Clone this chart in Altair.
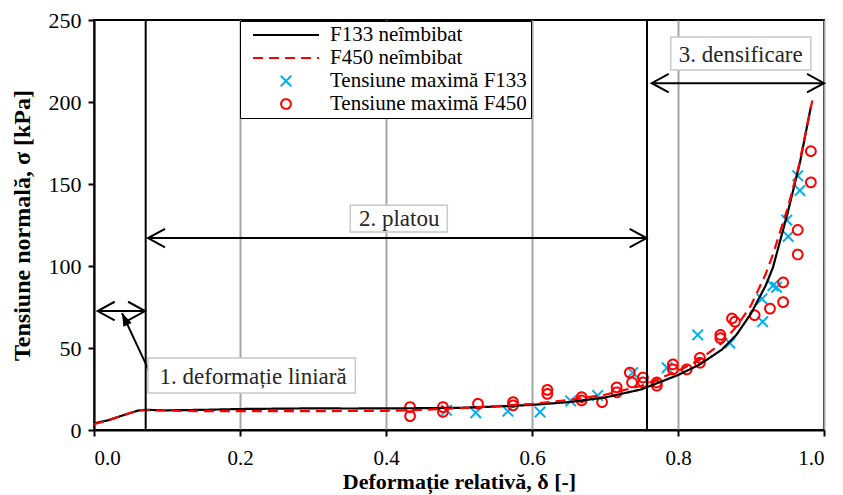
import altair as alt
import pandas as pd

FONT = "Liberation Serif"

# ---- curves ----
f133_delta = [0.0, 0.02, 0.04, 0.06, 0.07, 0.10, 0.15, 0.20, 0.25, 0.30, 0.35, 0.40, 0.45, 0.50,
              0.55, 0.60, 0.65, 0.70, 0.75, 0.80, 0.83, 0.86, 0.88, 0.90, 0.92, 0.93, 0.95, 0.967, 0.982]
f133_sigma = [4.0, 6.0, 9.0, 11.8, 12.3, 12.0, 12.3, 12.8, 13.0, 13.2, 13.1, 13.2, 13.3, 13.5,
              14.3, 15.3, 17.0, 19.8, 24.8, 33.5, 40.0, 49.0, 58.0, 71.0, 88.0, 99.0, 132.0, 163.0, 197.0]

f450_delta = [0.0, 0.02, 0.04, 0.06, 0.07, 0.10, 0.15, 0.20, 0.30, 0.40, 0.45, 0.50,
              0.55, 0.60, 0.65, 0.70, 0.75, 0.80, 0.83, 0.86, 0.88, 0.90, 0.92, 0.93, 0.95, 0.965, 0.984]
f450_sigma = [3.5, 6.0, 9.0, 11.8, 12.2, 11.8, 11.5, 11.5, 11.5, 11.7, 12.3, 13.3,
              14.5, 16.0, 18.2, 21.5, 27.0, 36.0, 43.0, 53.0, 63.0, 76.0, 95.0, 107.0, 135.0, 160.0, 201.0]

# ---- maximum stress points ----
max133_delta = [0.483, 0.523, 0.567, 0.611, 0.653, 0.690, 0.738, 0.785, 0.827, 0.871, 0.915, 0.916,
                0.930, 0.935, 0.949, 0.951, 0.964, 0.967]
max133_sigma = [12.0, 10.5, 11.5, 11.0, 17.7, 21.0, 35.0, 38.0, 58.0, 53.0, 80.0, 66.0,
                88.0, 87.0, 128.0, 118.0, 155.0, 146.0]

max450_delta = [0.433, 0.433, 0.478, 0.478, 0.526, 0.574, 0.574, 0.621, 0.621, 0.668, 0.668, 0.696,
                0.716, 0.716, 0.734, 0.737, 0.752, 0.752, 0.771, 0.771, 0.793, 0.793, 0.812, 0.830,
                0.830, 0.858, 0.858, 0.874, 0.878, 0.905, 0.926, 0.944, 0.944, 0.964, 0.964, 0.982, 0.982]
max450_sigma = [14.0, 8.5, 14.0, 11.0, 16.0, 15.0, 17.0, 22.0, 24.5, 20.0, 18.0, 17.0,
                23.0, 26.0, 35.0, 29.0, 32.0, 29.0, 29.0, 27.0, 40.0, 37.0, 37.0, 44.0,
                41.0, 58.0, 56.0, 68.0, 66.0, 70.0, 74.0, 90.0, 78.0, 122.0, 107.0, 170.0, 151.0]

# ---- series names / styles ----
S_L133 = "F133 neîmbibat"
S_L450 = "F450 neîmbibat"
S_P133 = "Tensiune maximă F133"
S_P450 = "Tensiune maximă F450"
series_all = [S_L133, S_L450, S_P133, S_P450]
series_colors = ["#000000", "#FF0000", "#00B0F0", "#FF0000"]
series_shapes = ["stroke", "stroke", "M-1,-1L1,1M-1,1L1,-1", "circle"]
series_sizes = [4356, 4356, 110, 95]
series_dashes = [[1, 0], [10, 6], [1, 0], [1, 0]]

# ---- annotations ----
zone_bounds = [0.0708, 0.7575]
arrow_start = [0.005, 0.074, 0.764]
arrow_end = [0.0700, 0.7570, 1.0]
arrow_level = [72.5, 117.0, 211.5]

label_text = ["1. deformație liniară", "2. platou", "3. densificare"]
label_x = [0.218, 0.418, 0.886]
label_y = [32.5, 128.8, 228.8]
box_x1 = [0.074, 0.351, 0.790]
box_x2 = [0.358, 0.484, 0.982]
box_y1 = [22.6, 120.7, 219.5]
box_y2 = [43.9, 137.0, 239.6]

pointer_from = (0.0767, 34.8)
pointer_to = (0.0384, 71.3)

# ---- data frames ----
lines_df = pd.concat([
    pd.DataFrame({"d": f133_delta, "s": f133_sigma, "series": S_L133}),
    pd.DataFrame({"d": f450_delta, "s": f450_sigma, "series": S_L450}),
])
points_df = pd.concat([
    pd.DataFrame({"d": max133_delta, "s": max133_sigma, "series": S_P133}),
    pd.DataFrame({"d": max450_delta, "s": max450_sigma, "series": S_P450}),
])
vlines_df = pd.DataFrame({"d": zone_bounds, "s": [0.0] * len(zone_bounds), "s2": [250.0] * len(zone_bounds)})
arrows_df = pd.DataFrame({"d": arrow_start, "d2": arrow_end, "s": arrow_level})
heads_left_df = pd.DataFrame({"d": arrow_start, "s": arrow_level})
heads_right_df = pd.DataFrame({"d": arrow_end, "s": arrow_level})
boxes_df = pd.DataFrame({"d": box_x1, "d2": box_x2, "s": box_y1, "s2": box_y2})
labels_df = pd.DataFrame({"d": label_x, "s": label_y, "t": label_text})
pointer_df = pd.DataFrame({"d": [pointer_from[0]], "s": [pointer_from[1]],
                           "d2": [pointer_to[0]], "s2": [pointer_to[1]]})
pointer_head_df = pd.DataFrame({"d": [pointer_to[0]], "s": [pointer_to[1]]})

# ---- scales / encodings ----
x_scale = alt.Scale(domain=[0, 1], nice=False, zero=False)
y_scale = alt.Scale(domain=[0, 250], nice=False)

X = alt.X("d:Q", scale=x_scale, axis=alt.Axis(
    values=[0, 0.2, 0.4, 0.6, 0.8, 1.0], format=".1f", labelFontSize=21,
    title="Deformație relativă, δ [-]", titleFontSize=22, grid=True, gridColor="#A6A6A6", gridWidth=2,
    labelPadding=11, titlePadding=3))
Y = alt.Y("s:Q", scale=y_scale, axis=alt.Axis(
    values=[0, 50, 100, 150, 200, 250], labelFontSize=22,
    title="Tensiune normală, σ [kPa]", titleFontSize=24,
    grid=False, labelPadding=7, titlePadding=14))

leg = alt.Legend(title=None, orient="none", legendX=146, legendY=1)

color_scale = alt.Scale(domain=series_all, range=series_colors)
dash_scale = alt.Scale(domain=series_all, range=series_dashes)
shape_scale = alt.Scale(domain=series_all, range=series_shapes)
size_scale = alt.Scale(type="ordinal", domain=series_all, range=series_sizes)

points = alt.Chart(points_df).mark_point(filled=False, strokeWidth=2, opacity=1).encode(
    x=X, y=Y,
    color=alt.Color("series:N", scale=color_scale, legend=leg),
    shape=alt.Shape("series:N", scale=shape_scale, legend=leg),
    size=alt.Size("series:N", scale=size_scale, legend=leg),
    strokeDash=alt.StrokeDash("series:N", scale=dash_scale, legend=leg),
)

lines = alt.Chart(lines_df).mark_line(strokeWidth=2.2).encode(
    x=X, y=Y,
    color=alt.Color("series:N", scale=color_scale, legend=leg),
    strokeDash=alt.StrokeDash("series:N", scale=dash_scale, legend=leg),
)

vlines = alt.Chart(vlines_df).mark_rule(color="black", strokeWidth=2).encode(
    x=X, y=Y, y2=alt.Y2("s2:Q"))

arrows = alt.Chart(arrows_df).mark_rule(color="black", strokeWidth=2).encode(
    x=X, x2=alt.X2("d2:Q"), y=Y)
heads_l = alt.Chart(heads_left_df).mark_point(
    shape="M2,-1.1L0,0L2,1.1", filled=False, color="black", strokeWidth=2, size=289, opacity=1
).encode(x=X, y=Y)
heads_r = alt.Chart(heads_right_df).mark_point(
    shape="M-2,-1.1L0,0L-2,1.1", filled=False, color="black", strokeWidth=2, size=289, opacity=1
).encode(x=X, y=Y)

boxes = alt.Chart(boxes_df).mark_rect(fill="white", stroke="#C8C8C8", strokeWidth=1.5).encode(
    x=X, x2=alt.X2("d2:Q"), y=Y, y2=alt.Y2("s2:Q"))
labels = alt.Chart(labels_df).mark_text(font=FONT, fontSize=23, color="#262626").encode(
    x=X, y=Y, text="t:N")

pointer = alt.Chart(pointer_df).mark_rule(color="black", strokeWidth=2).encode(
    x=X, y=Y, x2=alt.X2("d2:Q"), y2=alt.Y2("s2:Q"))
pointer_head = alt.Chart(pointer_head_df).mark_point(
    shape="M0,0L0.7,2L-0.7,2Z", filled=True, color="black", size=169, angle=335, opacity=1
).encode(x=X, y=Y)

chart = alt.layer(
    points, lines, vlines, arrows, heads_l, heads_r, pointer, pointer_head, boxes, labels
).properties(
    width=730, height=410,
    autosize=alt.AutoSizeParams(type="none"),
    padding={"left": 94, "top": 20, "right": 19, "bottom": 65},
).configure_view(
    stroke="black", strokeWidth=2
).configure_axis(
    labelFont=FONT, labelColor="black",
    titleFont=FONT, titleFontWeight="bold", titleColor="black",
    domainColor="black", domainWidth=2, tickColor="black", tickWidth=2, tickSize=6,
).configure_legend(
    labelFont=FONT, labelFontSize=21, labelColor="black",
    strokeColor="black", fillColor="white", padding=4, symbolOffset=8,
    clipHeight=20, rowPadding=2, labelOffset=10, symbolStrokeWidth=2,
    labelLimit=400,
)

chart.save("out.html", embed_options={"renderer": "svg", "actions": False})
